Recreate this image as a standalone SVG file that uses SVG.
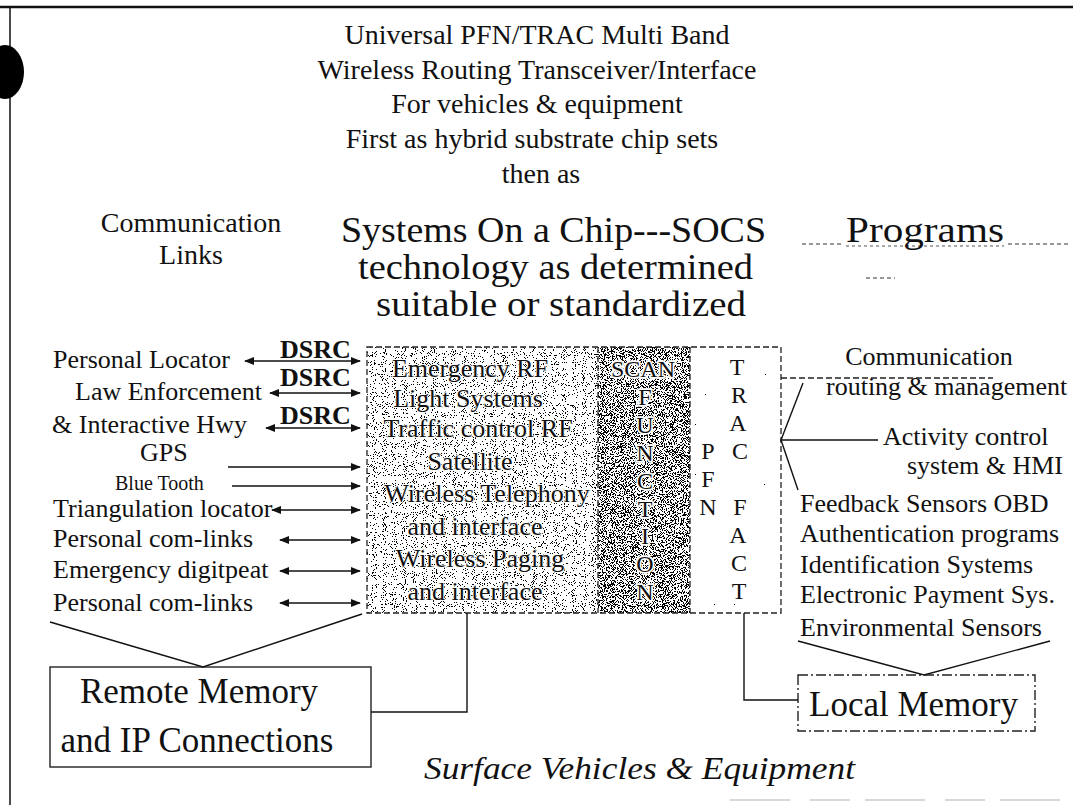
<svg xmlns="http://www.w3.org/2000/svg" width="1073" height="805" viewBox="0 0 1073 805">
<style>
text{font-family:"Liberation Serif","Times New Roman",serif;fill:#111}
.t28{font-size:28px}
.t26{font-size:26px}
.big{font-size:36px}
.mem{font-size:35px}
.dsrc{font-size:26px;font-weight:bold}
.c{text-anchor:middle}
.ln{stroke:#111;stroke-width:1.4;fill:none}
.arr{stroke:#111;stroke-width:1.5;fill:none}
.dash{stroke:#222;stroke-width:1.3;fill:none;stroke-dasharray:6 3}
.chip{font-size:26px}
.let{font-size:24px;text-anchor:middle}
.halo{paint-order:stroke;stroke:#fff;stroke-width:2px;stroke-linejoin:round}
.halo3{paint-order:stroke;stroke:#fff;stroke-width:3.5px;stroke-linejoin:round}
</style>
<defs>
<marker id="ah" viewBox="0 0 10 8" refX="9" refY="4" markerWidth="10" markerHeight="8" markerUnits="userSpaceOnUse" orient="auto-start-reverse">
<path d="M0,0 L10,4 L0,8 Z" fill="#111"/>
</marker>
<filter id="stipA" x="0" y="0" width="1" height="1">
<feTurbulence type="fractalNoise" baseFrequency="1.1" numOctaves="1" seed="4" result="n"/>
<feColorMatrix in="n" type="matrix" values="0 0 0 0 0 0 0 0 0 0 0 0 0 0 0 1 0 0 0 0" result="a"/>
<feComponentTransfer in="a" result="d"><feFuncA type="discrete" tableValues="0 0 0 0 0 0 0 0 0 0 1 1 1 1 1 1"/></feComponentTransfer>
<feComposite in="d" in2="SourceGraphic" operator="in"/>
</filter>
<filter id="stipB" x="0" y="0" width="1" height="1">
<feTurbulence type="fractalNoise" baseFrequency="1.1" numOctaves="1" seed="9" result="n"/>
<feColorMatrix in="n" type="matrix" values="0 0 0 0 0 0 0 0 0 0 0 0 0 0 0 1 0 0 0 0" result="a"/>
<feComponentTransfer in="a" result="d"><feFuncA type="discrete" tableValues="0 0 0 0 0 0 0 0 0 0 0 0 0 0 0 0 0 1 1 1 1 1 1 1 1 1 1 1 1 1 1 1"/></feComponentTransfer>
<feComposite in="d" in2="SourceGraphic" operator="in"/>
</filter>
<filter id="stipC" x="0" y="0" width="1" height="1">
<feTurbulence type="fractalNoise" baseFrequency="1.1" numOctaves="1" seed="13" result="n"/>
<feColorMatrix in="n" type="matrix" values="0 0 0 0 0 0 0 0 0 0 0 0 0 0 0 1 0 0 0 0" result="a"/>
<feComponentTransfer in="a" result="d"><feFuncA type="discrete" tableValues="0 0 0 0 0 0 0 0 0 0 0 0 0 1 1 1"/></feComponentTransfer>
<feComposite in="d" in2="SourceGraphic" operator="in"/>
</filter>
</defs>
<rect width="1073" height="805" fill="#fff"/>

<g id="frame">
<line x1="0" y1="7" x2="1073" y2="7" stroke="#111" stroke-width="2.5"/>
<line x1="10" y1="7" x2="10" y2="805" stroke="#111" stroke-width="1.5"/>
<ellipse cx="5" cy="72" rx="19" ry="27" fill="#000"/>
<line x1="730" y1="800" x2="1073" y2="800" stroke="#d8d8d8" stroke-width="2" stroke-dasharray="60 20 40 15"/>
</g>

<g id="title" class="t28">
<text class="c" x="537" y="44">Universal PFN/TRAC Multi Band</text>
<text class="c" x="537" y="79">Wireless Routing Transceiver/Interface</text>
<text class="c" x="537" y="113">For vehicles &amp; equipment</text>
<text class="c" x="532" y="148">First as hybrid substrate chip sets</text>
<text class="c" x="541" y="183">then as</text>
</g>

<g id="comm-links-heading" class="t28">
<text class="c" x="191" y="232">Communication</text>
<text class="c" x="191" y="264">Links</text>
</g>

<g id="socs" class="big">
<text x="341" y="242" textLength="425" lengthAdjust="spacingAndGlyphs">Systems On a Chip---SOCS</text>
<text x="358" y="279" textLength="395" lengthAdjust="spacingAndGlyphs">technology as determined</text>
<text x="376" y="316" textLength="370" lengthAdjust="spacingAndGlyphs">suitable or standardized</text>
</g>

<g id="programs">
<line x1="802" y1="244" x2="844" y2="244" stroke="#333" stroke-width="1" stroke-dasharray="4 3"/>
<line x1="846" y1="246" x2="1004" y2="246" stroke="#555" stroke-width="1" stroke-dasharray="3 3"/>
<line x1="1008" y1="244" x2="1070" y2="244" stroke="#333" stroke-width="1" stroke-dasharray="4 3"/>
<text class="big" x="846" y="242" textLength="158" lengthAdjust="spacingAndGlyphs">Programs</text>
<line x1="866" y1="278" x2="895" y2="278" stroke="#333" stroke-width="1" stroke-dasharray="4 3"/>
</g>

<g id="left-links" class="t26">
<text x="53" y="368">Personal Locator</text>
<text class="dsrc" x="280" y="358">DSRC</text>
<text x="75" y="400">Law Enforcement</text>
<text class="dsrc" x="280" y="386">DSRC</text>
<text x="52" y="433">&amp; Interactive Hwy</text>
<text class="dsrc" x="280" y="424">DSRC</text>
<text x="140" y="461">GPS</text>
<text x="115" y="490" style="font-size:20px">Blue Tooth</text>
<text x="53" y="517">Triangulation  locator</text>
<text x="53" y="547">Personal com-links</text>
<text x="53" y="578">Emergency digitpeat</text>
<text x="53" y="611">Personal com-links</text>
</g>

<g id="chip">
<rect x="367" y="347" width="231" height="266" fill="#1a1a1a" filter="url(#stipA)"/>
<rect x="598" y="347" width="92" height="266" fill="#111" filter="url(#stipB)"/>
<rect x="690" y="347" width="91" height="266" fill="#333" filter="url(#stipC)"/>
<rect x="367" y="347" width="414" height="266" class="dash"/>
<line x1="598" y1="347" x2="598" y2="613" class="dash"/>
<line x1="690" y1="347" x2="690" y2="613" class="dash"/>
<g class="chip halo">
<text class="c" x="470" y="377">Emergency  RF</text>
<text class="c" x="468" y="407">Light Systems</text>
<text class="c" x="478" y="437">Traffic control RF</text>
<text class="c" x="470" y="470">Satellite</text>
<text class="c" x="487" y="502">Wireless Telephony</text>
<text class="c" x="475" y="535">and interface</text>
<text class="c" x="480" y="567">Wireless  Paging</text>
<text class="c" x="475" y="600">and interface</text>
</g>
<g class="let halo3">
<text x="643" y="377">SCAN</text>
<text x="645" y="405">F</text>
<text x="645" y="433">U</text>
<text x="645" y="461">N</text>
<text x="645" y="489">C</text>
<text x="645" y="517">T</text>
<text x="645" y="544">I</text>
<text x="645" y="572">O</text>
<text x="645" y="600">N</text>
</g>
<g class="let halo">
<text x="737" y="375">T</text>
<text x="739" y="403">R</text>
<text x="738" y="431">A</text>
<text x="740" y="459">C</text>
<text x="708" y="459">P</text>
<text x="708" y="487">F</text>
<text x="708" y="515">N</text>
<text x="740" y="515">F</text>
<text x="738" y="543">A</text>
<text x="739" y="571">C</text>
<text x="739" y="599">T</text>
</g>
</g>

<g id="right-labels" class="t26">
<text class="c" x="929" y="365">Communication</text>
<text x="826" y="395">routing &amp; management</text>
<text x="883" y="445">Activity control</text>
<text x="907" y="474">system &amp; HMI</text>
<text x="800" y="512">Feedback Sensors OBD</text>
<text x="800" y="542">Authentication  programs</text>
<text x="800" y="573">Identification Systems</text>
<text x="800" y="603">Electronic Payment Sys.</text>
<text x="800" y="636">Environmental Sensors</text>
</g>

<g id="remote-memory">
<rect x="50" y="667" width="321" height="100" fill="none" stroke="#222" stroke-width="1.4"/>
<text class="mem c" x="199" y="703">Remote Memory</text>
<text class="mem c" x="197" y="752">and IP Connections</text>
</g>

<g id="local-memory">
<rect x="798" y="675" width="237" height="56" fill="none" stroke="#222" stroke-width="1.4" stroke-dasharray="10 3 2 3"/>
<text class="mem" x="809" y="716">Local Memory</text>
</g>

<g id="footer">
<text x="424" y="779" style="font-size:32px;font-style:italic" textLength="431" lengthAdjust="spacingAndGlyphs">Surface Vehicles &amp; Equipment</text>
</g>

<g id="connectors">
<line x1="245" y1="361" x2="360" y2="361" class="arr" marker-start="url(#ah)" marker-end="url(#ah)"/>
<line x1="270" y1="393" x2="360" y2="393" class="arr" marker-start="url(#ah)" marker-end="url(#ah)"/>
<line x1="266" y1="428" x2="360" y2="428" class="arr" marker-start="url(#ah)" marker-end="url(#ah)"/>
<line x1="228" y1="467" x2="360" y2="467" class="arr" marker-end="url(#ah)"/>
<line x1="232" y1="486" x2="360" y2="486" class="arr" marker-end="url(#ah)"/>
<line x1="272" y1="510" x2="360" y2="510" class="arr" marker-start="url(#ah)" marker-end="url(#ah)"/>
<line x1="280" y1="540" x2="360" y2="540" class="arr" marker-start="url(#ah)" marker-end="url(#ah)"/>
<line x1="280" y1="571" x2="360" y2="571" class="arr" marker-start="url(#ah)" marker-end="url(#ah)"/>
<line x1="280" y1="603" x2="360" y2="603" class="arr" marker-start="url(#ah)" marker-end="url(#ah)"/>
<line x1="781" y1="378" x2="993" y2="378" class="dash"/>
<polyline points="803,383 781,440 878,440" class="ln"/>
<line x1="781" y1="440" x2="798" y2="490" class="ln"/>
<polyline points="50,622 203,667 362,614" class="ln"/>
<polyline points="467,613 467,712 371,712" class="ln"/>
<polyline points="744,613 744,700 798,700" class="ln"/>
<polyline points="798,641 924,675 1050,641" class="ln"/>
</g>
</svg>
